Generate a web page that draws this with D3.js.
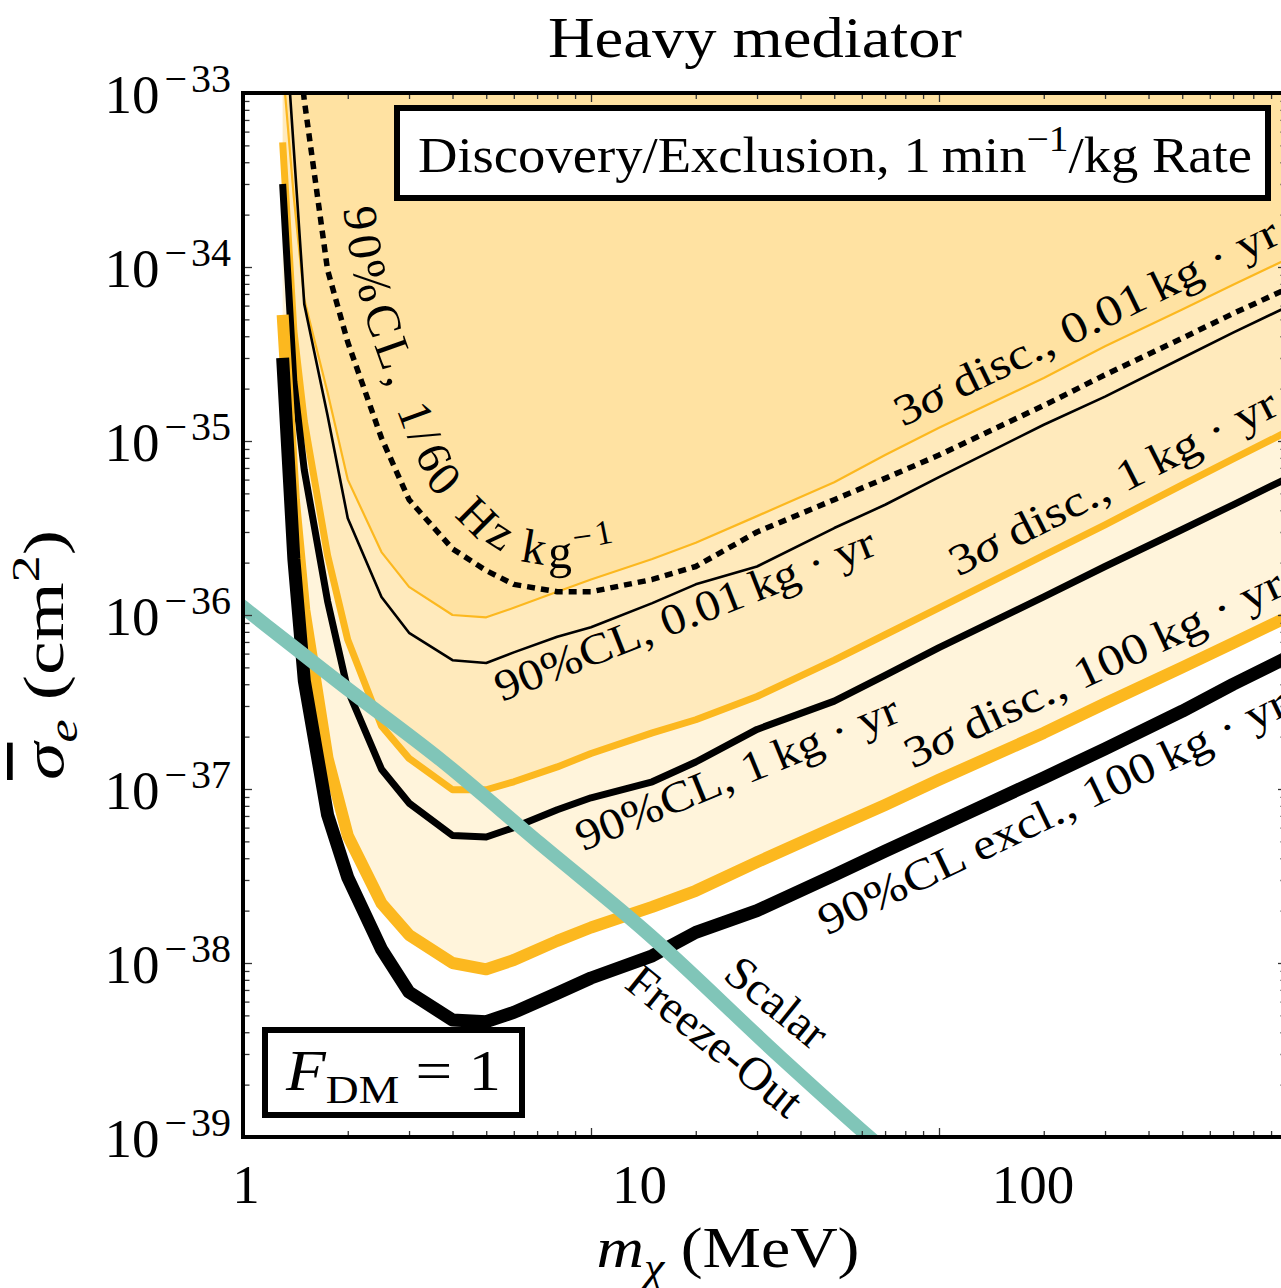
<!DOCTYPE html>
<html><head><meta charset="utf-8">
<script src="https://cdn.jsdelivr.net/npm/d3@7"></script>
<style>
html,body{margin:0;padding:0;background:#fff;overflow:hidden}
svg{display:block;font-family:"Liberation Serif","Times New Roman",serif}
</style></head><body>
<svg id="chart" width="1281" height="1288"></svg>
<script>
// ---------------- data ----------------
const masses = [1.3, 1.4, 1.5, 1.75, 2, 2.5, 3, 4, 5, 6, 8, 10, 15, 20, 30, 50, 70, 100, 200, 300, 500, 700, 1000];
// 3 sigma discovery, 0.01 kg.yr (thin orange)
const disc001 = [1.45e-33, 2.5e-34, 6.5e-35, 1.9e-35, 6.0e-36, 2.3e-36, 1.45e-36, 1.0e-36, 9.7e-37, 1.1e-36, 1.36e-36, 1.6e-36, 2.1e-36, 2.6e-36, 3.7e-36, 5.8e-36, 8.3e-36, 1.19e-35, 2.3e-35, 3.5e-35, 5.7e-35, 7.9e-35, 1.11e-34];
// 90% CL, 0.01 kg.yr (thin black)
const excl001 = [4.2e-33, 4.7e-34, 6.1e-35, 1.4e-35, 3.6e-36, 1.27e-36, 7.9e-37, 5.5e-37, 5.3e-37, 6.1e-37, 7.5e-37, 8.5e-37, 1.17e-36, 1.5e-36, 1.9e-36, 3.16e-36, 4.3e-36, 6.2e-36, 1.24e-35, 1.8e-35, 3.0e-35, 4.2e-35, 5.9e-35];
// 90% CL, 1/60 Hz/kg (dotted)
const rate90 = [1.34e-32, 3.16e-33, 9.1e-34, 9.6e-35, 3.7e-35, 1.04e-35, 4.6e-36, 2.4e-36, 1.8e-36, 1.5e-36, 1.36e-36, 1.36e-36, 1.6e-36, 1.9e-36, 3.0e-36, 4.6e-36, 6.1e-36, 8.3e-36, 1.6e-35, 2.4e-35, 3.9e-35, 5.4e-35, 7.5e-35];
// 3 sigma discovery, 1 kg.yr (medium orange)
const disc1 = [5.2e-34, 4.3e-35, 1.3e-35, 2.2e-36, 7.2e-37, 2.3e-37, 1.5e-37, 9.9e-38, 9.9e-38, 1.1e-37, 1.34e-37, 1.6e-37, 2.1e-37, 2.5e-37, 3.4e-37, 5.5e-37, 7.7e-37, 1.1e-36, 2.2e-36, 3.3e-36, 5.6e-36, 7.9e-36, 1.13e-35];
// 90% CL, 1 kg.yr (medium black)
const excl1 = [3.0e-34, 2.2e-35, 6.8e-36, 1.2e-36, 3.7e-37, 1.3e-37, 8.3e-38, 5.4e-38, 5.3e-38, 6.0e-38, 7.6e-38, 8.9e-38, 1.1e-37, 1.43e-37, 2.2e-37, 3.2e-37, 4.5e-37, 6.5e-37, 1.27e-36, 1.9e-36, 3.1e-36, 4.3e-36, 6.1e-36];
// 3 sigma discovery, 100 kg.yr (thick orange)
const disc100 = [5.3e-35, 4.6e-36, 1.07e-36, 1.5e-37, 5.4e-38, 2.2e-38, 1.45e-38, 1.0e-38, 9.2e-39, 1.04e-38, 1.34e-38, 1.6e-38, 2.1e-38, 2.6e-38, 3.8e-38, 6.0e-38, 8.1e-38, 1.13e-37, 2.1e-37, 3.1e-37, 5.0e-37, 6.9e-37, 9.7e-37];
// 90% CL exclusion, 100 kg.yr (thick black)
const excl100 = [3.0e-35, 2.1e-36, 4.2e-37, 7.1e-38, 3.1e-38, 1.2e-38, 6.8e-39, 4.7e-39, 4.6e-39, 5.2e-39, 6.7e-39, 8.2e-39, 1.1e-38, 1.5e-38, 2.0e-38, 3.2e-38, 4.4e-38, 6.1e-38, 1.16e-37, 1.7e-37, 2.8e-37, 4.0e-37, 5.7e-37];
// Scalar freeze-out target
const fzMass = [0.9, 1, 1.9, 3.7, 7.1, 14.5, 35, 63, 80];
const fzSigma = [1.31e-36, 1.11e-36, 4.06e-37, 1.47e-37, 4.9e-38, 1.49e-38, 2.88e-39, 1.0e-39, 6.6e-40];
// tick labels
const xTickLabels = [1, 10, 100];
const yTickExps = [-33, -34, -35, -36, -37, -38, -39];

// ---------------- setup ----------------
const ORANGE = '#fcb81f', TEAL = '#80c5b8';
const svg = d3.select('#chart');
svg.append('rect').attr('width',1281).attr('height',1288).attr('fill','#fff');
const x = d3.scaleLog().domain([1, 1000]).range([243, 1287]);
const y = d3.scaleLog().domain([1e-39, 1e-33]).range([1137, 93]);
const xLab = d3.scaleLog().domain([1, 100]).range([246, 1033]);
const X0 = x.range()[0], X1 = x.range()[1], Y0 = y.range()[1], Y1 = y.range()[0];

const defs = svg.append('defs');
defs.append('clipPath').attr('id','clip').append('rect')
  .attr('x',X0).attr('y',Y0).attr('width',X1-X0).attr('height',Y1-Y0);

function interpLog(ms, vs, m){
  const lm = Math.log10(m);
  let i = 0;
  while (i < ms.length-2 && lm > Math.log10(ms[i+1])) i++;
  const a = Math.log10(ms[i]), b = Math.log10(ms[i+1]);
  const t = (lm-a)/(b-a);
  return Math.pow(10, Math.log10(vs[i])*(1-t) + Math.log10(vs[i+1])*t);
}
function rich(sel, segs, size){
  let shift = 0;
  segs.forEach(([s,k,extra]) => {
    const ts = sel.append('tspan').text(s);
    let target = 0, fs = size;
    if (k === 'sup'){ target = -0.42*size; fs = 0.72*size; }
    if (k === 'sub' || k === 'subi'){ target = 0.24*size; fs = 0.7*size; }
    if (k === 'i' || k === 'subi' || k === 'ibar') ts.attr('font-style','italic');
    if (k === 'ibar') ts.style('text-decoration','overline');
    ts.attr('font-size', fs);
    if (target - shift !== 0) ts.attr('dy', target - shift);
    if (extra) ts.attr('dx', extra);
    shift = target;
  });
}

const plot = svg.append('g').attr('clip-path','url(#clip)');
const zip = (ms, vs) => ms.map((m,i) => [m, vs[i]]);

// fills (stacked translucent orange above each discovery curve)
const area = d3.area().x(d => x(d[0])).y0(Y0 - 5).y1(d => y(d[1]));
[disc001, disc1, disc100].forEach(vs => {
  plot.append('path').attr('d', area(zip(masses, vs)))
    .attr('fill', ORANGE).attr('fill-opacity', 0.16).attr('stroke','none');
});

// curves
const line = d3.line().x(d => x(d[0])).y(d => y(d[1]));
const curves = [
  {vs: disc001, stroke: ORANGE, w: 2.2},
  {vs: excl001, stroke: '#000', w: 2.6},
  {vs: rate90, stroke: '#000', w: 5.5, dash: '8,6'},
  {vs: disc1, stroke: ORANGE, w: 7},
  {vs: excl1, stroke: '#000', w: 7},
  {vs: disc100, stroke: ORANGE, w: 12},
  {vs: excl100, stroke: '#000', w: 13}
];
curves.forEach(c => {
  const p = plot.append('path').attr('d', line(zip(masses, c.vs)))
    .attr('fill','none').attr('stroke', c.stroke).attr('stroke-width', c.w)
    .attr('stroke-linejoin','round').attr('stroke-linecap','butt');
  if (c.dash) p.attr('stroke-dasharray', c.dash);
});
const smooth = d3.line().curve(d3.curveMonotoneX).x(d => x(d[0])).y(d => y(d[1]));
plot.append('path').attr('d', smooth(zip(fzMass, fzSigma)))
  .attr('fill','none').attr('stroke', TEAL).attr('stroke-width', 14);

// ---------------- axes / ticks ----------------
const majX = [1, 10, 100, 1000], minX = [];
[1, 10, 100].forEach(d => { for (let k = 2; k <= 9; k++) minX.push(d*k); });
const majY = yTickExps.map(e => Math.pow(10, e)), minY = [];
yTickExps.slice(1).forEach(e => { for (let k = 2; k <= 9; k++) minY.push(k*Math.pow(10, e)); });

function ticks(axisFn, scale, vals, len, tr){
  const g = svg.append('g').attr('transform', tr)
    .call(axisFn(scale).tickValues(vals).tickSize(-len).tickFormat(''));
  g.select('.domain').remove();
  g.selectAll('line').attr('stroke','#333').attr('stroke-width',1.3);
}
ticks(d3.axisBottom, x, majX, 9, `translate(0,${Y1})`);
ticks(d3.axisBottom, x, minX, 6, `translate(0,${Y1})`);
ticks(d3.axisTop, x, majX, 9, `translate(0,${Y0})`);
ticks(d3.axisTop, x, minX, 6, `translate(0,${Y0})`);
ticks(d3.axisLeft, y, majY, 9, `translate(${X0},0)`);
ticks(d3.axisLeft, y, minY, 6.5, `translate(${X0},0)`);
ticks(d3.axisRight, y, majY, 9, `translate(${X1},0)`);
ticks(d3.axisRight, y, minY, 6.5, `translate(${X1},0)`);

svg.append('rect').attr('x',X0).attr('y',Y0).attr('width',X1-X0).attr('height',Y1-Y0)
  .attr('fill','none').attr('stroke','#000').attr('stroke-width',4);

// tick labels
yTickExps.forEach(e => {
  const t = svg.append('text').attr('x', 231).attr('y', y(Math.pow(10,e)) + 20)
    .attr('text-anchor','end').attr('font-size',55);
  t.append('tspan').text('10');
  t.append('tspan').attr('font-size',40).attr('dy',-21).attr('dx',5).text('\u2212');
  t.append('tspan').attr('font-size',40).attr('dx',4).text(String(-e));
});
xTickLabels.forEach(v => {
  svg.append('text').attr('x', xLab(v)).attr('y', 1203).attr('text-anchor','middle')
    .attr('font-size',55).text(String(v));
});

// axis titles
const xt = svg.append('text').attr('x', 728).attr('y', 1267).attr('text-anchor','middle')
  .attr('font-size',57).attr('textLength',263).attr('lengthAdjust','spacingAndGlyphs');
rich(xt, [['m','i'],['\u03C7','subi'],[' (MeV)','r']], 57);
const yt = svg.append('text').attr('transform','translate(63,655) rotate(-90)').attr('text-anchor','middle')
  .attr('font-size',57).attr('textLength',250).attr('lengthAdjust','spacingAndGlyphs');
rich(yt, [['\u03C3','ibar'],['e','subi'],['  (cm','r'],['2','sup'],[')','r']], 57);

// title
svg.append('text').attr('x', 755).attr('y', 57).attr('text-anchor','middle')
  .attr('font-size',57).attr('textLength',414).attr('lengthAdjust','spacingAndGlyphs').text('Heavy mediator');

// ---------------- curve labels ----------------
const lineLabels = [
  {ms: masses, vs: disc001, m1: 82.6, m2: 1000, side: 1, off: 17, len: 422, fs: 44, segs: [['3','r'],['\u03C3','i'],[' disc., 0.01\u2009kg \u00B7 yr','r']]},
  {ms: masses, vs: excl001, m1: 5.0, m2: 59, side: -1, off: 42, len: 405, fs: 44, segs: [['90%CL, 0.01\u2009kg \u00B7 yr','r']]},
  {ms: masses, vs: disc1, m1: 120, m2: 1000, side: 1, off: 19, len: 362, fs: 44, segs: [['3','r'],['\u03C3','i'],[' disc., 1\u2009kg \u00B7 yr','r']]},
  {ms: masses, vs: excl1, m1: 8.4, m2: 67, side: -1, off: 48, len: 345, fs: 44, segs: [['90%CL, 1\u2009kg \u00B7 yr','r']]},
  {ms: masses, vs: disc100, m1: 89, m2: 1000, side: 1, off: 21, len: 413, fs: 44, segs: [['3','r'],['\u03C3','i'],[' disc., 100\u2009kg \u00B7 yr','r']]},
  {ms: masses, vs: excl100, m1: 41, m2: 1000, side: -1, off: 52, len: 515, fs: 44, segs: [['90%CL excl., 100\u2009kg \u00B7 yr','r']]},
  {ms: fzMass, vs: fzSigma, m1: 22.0, m2: 63, rot: 39, side: 1, off: 18, fs: 47, segs: [['Scalar','r']]},
  {ms: fzMass, vs: fzSigma, m1: 15.6, m2: 63, rot: 39, side: -1, off: 56, fs: 47, segs: [['Freeze-Out','r']]}
];
lineLabels.forEach(L => {
  const p1 = [x(L.m1), y(interpLog(L.ms, L.vs, L.m1))];
  const p2 = [x(L.m2), y(interpLog(L.ms, L.vs, L.m2))];
  let a = Math.atan2(p2[1]-p1[1], p2[0]-p1[0]);
  if (L.rot !== undefined) a = L.rot*Math.PI/180;
  const n = [Math.sin(a), -Math.cos(a)];
  const ax = p1[0] + L.side*L.off*n[0], ay = p1[1] + L.side*L.off*n[1];
  const t = svg.append('text').attr('transform', `translate(${ax},${ay}) rotate(${a*180/Math.PI})`)
    .attr('font-size', L.fs);
  if (L.len) t.attr('textLength', L.len).attr('lengthAdjust','spacingAndGlyphs');
  rich(t, L.segs, L.fs);
});

// curved label along the dotted rate line
{
  const lo = Math.log10(1.66), hi = Math.log10(300);
  const pts = d3.range(0, 161).map(i => {
    const m = Math.pow(10, lo + i*(hi-lo)/160);
    return [x(m), y(interpLog(masses, rate90, m))];
  });
  const off = pts.map((p,i) => {
    const a = pts[Math.max(0,i-1)], b = pts[Math.min(pts.length-1,i+1)];
    const dx = b[0]-a[0], dy = b[1]-a[1], l = Math.hypot(dx,dy);
    return [p[0] + 24*dy/l, p[1] - 24*dx/l];
  });
  defs.append('path').attr('id','ratePath').attr('d', d3.line().curve(d3.curveBasis)(off));
  const t = svg.append('text').attr('font-size', 48);
  const tp = t.append('textPath').attr('href','#ratePath');
  rich(tp, [['90%CL, 1/60 Hz\u2009kg','r'],['\u22121','sup']], 48);
  const natural = t.node().getComputedTextLength();
  const nChars = '90%CL, 1/60 Hz kg-1'.length;
  const target = 515;
  if (natural > 0 && natural < target) t.attr('letter-spacing', (target - natural)/nChars);
}

// ---------------- boxes ----------------
svg.append('rect').attr('x',397).attr('y',108).attr('width',871).attr('height',90)
  .attr('fill','#fff').attr('stroke','#000').attr('stroke-width',6);
const lt = svg.append('text').attr('x', 418).attr('y', 172).attr('font-size',50)
  .attr('textLength',834).attr('lengthAdjust','spacingAndGlyphs');
rich(lt, [['Discovery/Exclusion, 1\u2009min','r'],['\u22121','sup'],['/kg Rate','r']], 50);

svg.append('rect').attr('x',265).attr('y',1030).attr('width',257).attr('height',85)
  .attr('fill','#fff').attr('stroke','#000').attr('stroke-width',6);
const ft = svg.append('text').attr('x', 286).attr('y', 1090).attr('font-size',56)
  .attr('textLength',215).attr('lengthAdjust','spacingAndGlyphs');
rich(ft, [['F','i'],['DM','sub'],[' = 1','r']], 56);
</script>
</body></html>
